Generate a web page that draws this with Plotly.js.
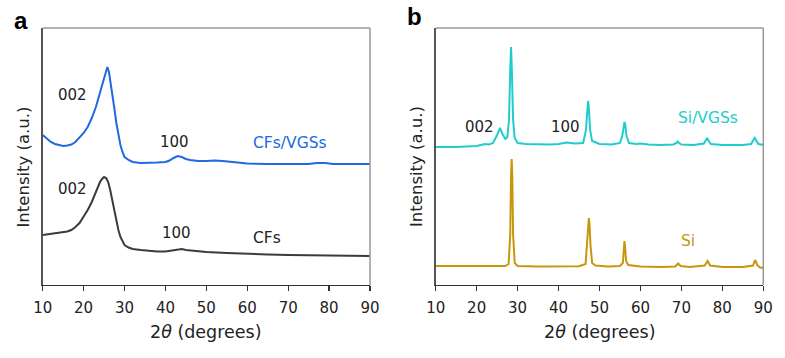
<!DOCTYPE html>
<html>
<head>
<meta charset="utf-8">
<script src="https://cdn.plot.ly/plotly-3.0.1.min.js"></script>
<style>html,body{margin:0;padding:0;background:#fff;}#chart{width:785px;height:358px;}</style>
</head>
<body>
<div id="chart"></div>
<script>
// Panel a: CFs/VGSs (blue)
const cfvX = [10,11,12,13,14,15,16,17,18,19,20,21,22,23,24,24.5,25,25.5,25.8,26.2,26.6,27,27.5,28,28.5,29,29.5,30,31,32,34,36,38,40,41,42,43,44,45,46,48,50,52,54,56,58,60,65,70,75,77,79,81,85,90];
const cfvY = [150,146,143,141,140,139,139.5,140.5,143,147,152,158,167,178,192,199,207,215,218,213,203,192,177,162,150,140,133,128,125,123,122,122,122.5,123,124.5,127,129,128,126,125,124,124,124.5,124,123,122,121.5,121,121,121,122,122,121,121,121];
// Panel a: CFs (dark grey)
const cfX = [10,12,14,16,17,18,19,20,21,22,23,24,24.5,25,25.5,26,26.5,27,27.5,28,28.5,29,29.5,30,31,32,34,36,38,40,42,43,44,45,47,50,55,60,65,70,80,90];
const cfY = [50,51,52,53.5,55,58,62,68,75,83,93,103,106,108,107,103,95,85,74,63,55,48,44,40,37.5,36,35,34,33.5,33.5,35,36,36,35,34,33,32,31,30.5,30,29.5,29];
// Panel b: Si/VGSs (cyan)
const sivX = [10,15,20,21,22,23,24,25,25.7,26.3,27,27.5,27.9,28.2,28.4,28.6,28.9,29.3,30,32,35,38,40,42,44,46,46.7,47.0,47.2,47.4,47.7,48.2,50,53,55,55.6,55.9,56.1,56.3,56.6,57.2,59,60,62,65,68,68.8,69.1,69.4,70,73,75.5,76,76.3,76.6,77.2,80,85,87,87.6,87.9,88.2,88.8,90];
const sivY = [138,138,139,140,141,140.5,142,150,157,151,146,148,165,215,238,215,165,147,142,141,140.5,140.5,141,142.5,141.5,142,155,178,184,178,155,144,141,140.5,142,150,161,163,160,149,142,141,141.5,140.5,140,140.5,142,143.5,142,140.5,140,141.5,145,147,144.5,141,140,140,141,145.5,147,145,141,140];
// Panel b: Si (gold)
const siX = [10,15,20,25,27,27.8,28.2,28.4,28.55,28.7,28.9,29.3,30,35,40,45,46.6,47.0,47.25,47.4,47.55,47.8,48.2,49,52,55,55.7,55.95,56.1,56.25,56.5,57,60,65,68.5,69.2,69.8,72,75.7,76.4,77,80,85,87.5,88,88.5,89.2,90];
const siY = [19,19,18.8,18.5,19,21,50,110,126,110,50,22,19,18.5,18.5,18.8,21,45,64,67,62,40,22,19.5,18.5,19,22,38,44,38,24,20,18.5,18,18.5,21.5,19,18,19.5,24,19.5,18,18,19.5,25,20,17.5,17];

const xTicks = [10,20,30,40,50,60,70,80,90];

const FONT = '"DejaVu Sans", Verdana, sans-serif';
const traces = [
  {x: cfvX, y: cfvY, xaxis:'x', yaxis:'y', mode:'lines', line:{color:'#2069df', width:2}},
  {x: cfX, y: cfY, xaxis:'x', yaxis:'y', mode:'lines', line:{color:'#3b3b3b', width:2}},
  {x: sivX, y: sivY, xaxis:'x2', yaxis:'y2', mode:'lines', line:{color:'#22cccc', width:2}},
  {x: siX, y: siY, xaxis:'x2', yaxis:'y2', mode:'lines', line:{color:'#c8960c', width:2}}
];

const xaxisBase = {
  range:[10,90], tickvals:xTicks, ticktext:xTicks.map(String), ticks:'outside', ticklen:5, tickwidth:1.2,
  tickcolor:'#333', showline:true, linecolor:'#333', linewidth:1.3, showgrid:false, zeroline:false,
  ticklabelstandoff:4,
  tickfont:{family:FONT, size:15, color:'#222'}, automargin:false, fixedrange:true
};
const yaxisBase = {
  range:[0,257], showticklabels:false, ticks:'', showline:true, linecolor:'#555', linewidth:1.3,
  showgrid:false, zeroline:false, automargin:false, fixedrange:true
};

const yDom = [(358-285)/358, (358-28)/358];
const layout = {
  width:785, height:358, margin:{l:0,r:0,t:0,b:0}, showlegend:false,
  paper_bgcolor:'#fff', plot_bgcolor:'#fff',
  xaxis: Object.assign({}, xaxisBase, {domain:[42.7/785, 370/785], anchor:'y'}),
  yaxis: Object.assign({}, yaxisBase, {domain:yDom, anchor:'x'}),
  xaxis2: Object.assign({}, xaxisBase, {domain:[435.7/785, 763.3/785], anchor:'y2'}),
  yaxis2: Object.assign({}, yaxisBase, {domain:yDom, anchor:'x2'}),
  shapes: [
    {type:'line', xref:'x domain', yref:'y domain', x0:0, x1:1, y0:1, y1:1, line:{color:'#999', width:1.5}},
    {type:'line', xref:'x domain', yref:'y domain', x0:1, x1:1, y0:0, y1:1, line:{color:'#999', width:1.5}},
    {type:'line', xref:'x2 domain', yref:'y2 domain', x0:0, x1:1, y0:1, y1:1, line:{color:'#999', width:1.5}},
    {type:'line', xref:'x2 domain', yref:'y2 domain', x0:1, x1:1, y0:0, y1:1, line:{color:'#999', width:1.5}}
  ],
  annotations: [
    {text:'<b>a</b>', xref:'paper', yref:'paper', x:21/785, y:1-20/358, showarrow:false, xanchor:'center', yanchor:'middle', font:{family:'"Liberation Sans", Arial, sans-serif', size:24, color:'#000'}},
    {text:'<b>b</b>', xref:'paper', yref:'paper', x:414/785, y:1-17/358, showarrow:false, xanchor:'center', yanchor:'middle', font:{family:'"Liberation Sans", Arial, sans-serif', size:24, color:'#000'}},
    {text:'Intensity (a.u.)', xref:'paper', yref:'paper', x:23.5/785, y:1-167/358, textangle:-90, showarrow:false, xanchor:'center', yanchor:'middle', font:{family:FONT, size:16.5, color:'#222'}},
    {text:'Intensity (a.u.)', xref:'paper', yref:'paper', x:417/785, y:1-167/358, textangle:-90, showarrow:false, xanchor:'center', yanchor:'middle', font:{family:FONT, size:16.5, color:'#222'}},
    {text:'2<i>θ</i> (degrees)', xref:'paper', yref:'paper', x:206/785, y:1-332/358, showarrow:false, xanchor:'center', yanchor:'middle', font:{family:FONT, size:17.5, color:'#222'}},
    {text:'2<i>θ</i> (degrees)', xref:'paper', yref:'paper', x:599.5/785, y:1-332/358, showarrow:false, xanchor:'center', yanchor:'middle', font:{family:FONT, size:17.5, color:'#222'}},
    {text:'002', xref:'x', yref:'y', x:17.2, y:190, showarrow:false, font:{family:FONT, size:15, color:'#222'}},
    {text:'100', xref:'x', yref:'y', x:42.1, y:143, showarrow:false, font:{family:FONT, size:15, color:'#222'}},
    {text:'CFs/VGSs', xref:'x', yref:'y', x:70.5, y:142, showarrow:false, font:{family:FONT, size:15.5, color:'#2069df'}},
    {text:'002', xref:'x', yref:'y', x:17.2, y:96, showarrow:false, font:{family:FONT, size:15, color:'#222'}},
    {text:'100', xref:'x', yref:'y', x:42.6, y:52, showarrow:false, font:{family:FONT, size:15, color:'#222'}},
    {text:'CFs', xref:'x', yref:'y', x:64.8, y:47, showarrow:false, font:{family:FONT, size:15.5, color:'#222'}},
    {text:'002', xref:'x2', yref:'y2', x:20.8, y:158, showarrow:false, font:{family:FONT, size:15, color:'#222'}},
    {text:'100', xref:'x2', yref:'y2', x:41.6, y:158, showarrow:false, font:{family:FONT, size:15, color:'#222'}},
    {text:'Si/VGSs', xref:'x2', yref:'y2', x:76.6, y:167, showarrow:false, font:{family:FONT, size:15.5, color:'#22cccc'}},
    {text:'Si', xref:'x2', yref:'y2', x:71.5, y:44, showarrow:false, font:{family:FONT, size:15.5, color:'#c8960c'}}
  ]
};
Plotly.newPlot('chart', traces, layout, {staticPlot:true, displayModeBar:false});
</script>
</body>
</html>
